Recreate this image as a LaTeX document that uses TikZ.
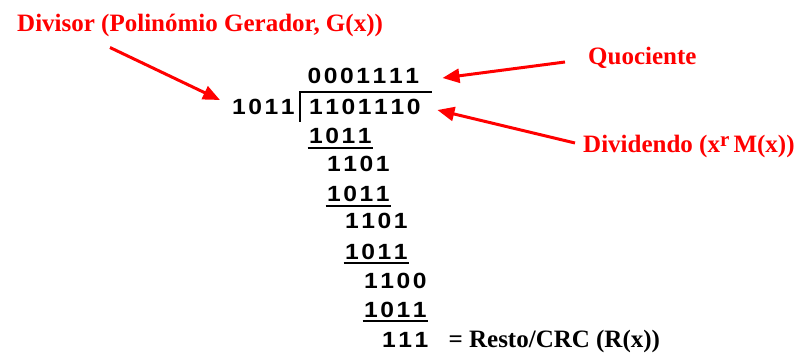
\documentclass[tikz,border=0pt]{standalone}
\usepackage{fontspec}
\usepackage{graphicx}
\setmainfont{Liberation Serif}
\newfontfamily\bitfont{Liberation Sans}
\usetikzlibrary{arrows.meta,positioning}

% one fixed-width cell per binary digit
\newcommand\bitbox[1]{\makebox[16.3pt]{\scalebox{1.12}[1]{#1}}}
\def\bits#1{\bitsnext#1\relax}
\def\bitsnext#1{\ifx\relax#1\else\bitbox{#1}\expandafter\bitsnext\fi}

\tikzset{
  bitrow/.style={anchor=base west, inner sep=0pt, font=\bitfont\bfseries\fontsize{22}{24}\selectfont},
  callout/.style={anchor=base west, inner sep=0pt, font=\bfseries\fontsize{25}{30}\selectfont},
  pointer/.style={draw=red, line width=3pt, -{Triangle[length=17pt,width=14pt]}},
  subline/.style={line width=2pt},
  divbar/.style={line width=2.5pt},
}

\begin{document}
\begin{tikzpicture}[x=1pt, y=-1pt]
    \useasboundingbox (0,0) rectangle (798,358);

    % Quotient, divisor and dividend
    \node[bitrow] (quot) at (306,84) {\bits{0001111}};
    \node[bitrow] (divisor) at (230.5,115) {\bits{1011}};
    \node[bitrow] (dividend) at (307.5,115) {\bits{1101110}};
    \draw[divbar] (300,122) -- (300,92) -- (432,92);

    % Long division steps
    \node[bitrow] (sub1) at (307.5,144) {\bits{1011}};
    \node[bitrow] (rem1) at (325.5,172) {\bits{1101}};
    \node[bitrow] (sub2) at (325.5,202) {\bits{1011}};
    \node[bitrow] (rem2) at (343.5,229) {\bits{1101}};
    \node[bitrow] (sub3) at (343.5,259) {\bits{1011}};
    \node[bitrow] (rem3) at (362.5,288) {\bits{1100}};
    \node[bitrow] (sub4) at (362.5,317) {\bits{1011}};
    \node[bitrow] (crc) at (380.5,347) {\bits{111}};

    % Lines under each subtraction
    \foreach \s in {sub1,sub2,sub3,sub4}
        \draw[subline] ([yshift=-4pt]\s.base west) -- ([yshift=-4pt]\s.base east);

    % Labels
    \node[callout, text=red] (lbldiv) at (17,32) {Divisor (Polinómio Gerador, G(x))};
    \node[callout, text=red] (lblquot) at (588,65) {Quociente};
    \node[callout, text=red] (lbldvd) at (583,153) {Dividendo (x\raisebox{6pt}{\fontsize{21}{22}\selectfont r}\,M(x))};
    \node[callout, anchor=base west] (lblcrc) at ([xshift=18.6pt]crc.base east) {= Resto/CRC (R(x))};

    % Arrows
    \draw[pointer] ([xshift=93pt,yshift=-10pt]lbldiv.south west) -- ([xshift=-10.5pt,yshift=15pt]divisor.base west);
    \draw[pointer] ([xshift=-23pt,yshift=3pt]lblquot.base west) -- ([xshift=22pt,yshift=6pt]quot.base east);
    \draw[pointer] ([xshift=-8pt,yshift=10pt]lbldvd.base west) -- ([xshift=15.4pt,yshift=5pt]dividend.base east);
\end{tikzpicture}
\end{document}
